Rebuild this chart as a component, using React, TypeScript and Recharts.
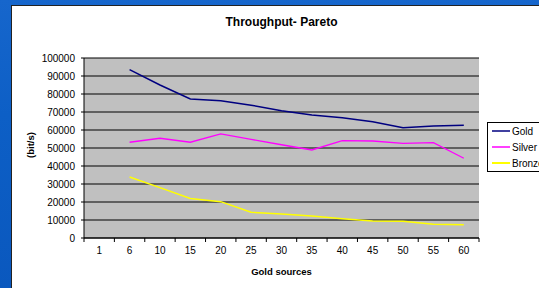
import React from 'react';
import {
  LineChart,
  Line,
  XAxis,
  YAxis,
  CartesianGrid,
  Legend,
  Label,
} from 'recharts';

// values
const sources = ['1', '6', '10', '15', '20', '25', '30', '35', '40', '45', '50', '55', '60'];
const gold = [null, 93500, 85000, 77200, 76300, 73800, 70700, 68300, 66800, 64600, 61300, 62200, 62600];
const silver = [null, 53200, 55400, 53200, 57800, 54800, 51800, 48900, 54100, 53900, 52600, 53000, 44300];
const bronze = [null, 33900, 28000, 22000, 20200, 14300, 13300, 12200, 10700, 9400, 9300, 7600, 7400];
const yTicks = [0, 10000, 20000, 30000, 40000, 50000, 60000, 70000, 80000, 90000, 100000];

const seriesNames = ['Gold', 'Silver', 'Bronze'];
const seriesColors: Record<string, string> = {
  Gold: '#000080',
  Silver: '#FF00FF',
  Bronze: '#FFFF00',
};

const data = sources.map((s, i) => ({
  source: s,
  Gold: gold[i],
  Silver: silver[i],
  Bronze: bronze[i],
}));

const FONT = '"Liberation Sans", Arial, sans-serif';
const TICK_SIZE = 4;
const TICK_MARGIN = 5;

// category tick: label in the middle, tick marks on the band edges (Excel style)
const XTick = (props: any) => {
  const { x, y, payload } = props;
  const half = payload.offset || 0;
  const axisY = y - TICK_SIZE - TICK_MARGIN;
  const last = payload.value === sources[sources.length - 1];
  return (
    <g>
      <line x1={x - half} x2={x - half} y1={axisY} y2={axisY + TICK_SIZE} stroke="#000" />
      {last && <line x1={x + half} x2={x + half} y1={axisY} y2={axisY + TICK_SIZE} stroke="#000" />}
      <text x={x} y={y} dy="0.71em" textAnchor="middle" fontSize={10} fill="#000" fontFamily={FONT}>
        {payload.value}
      </text>
    </g>
  );
};

const renderLegend = () => (
  <div
    style={{
      border: '1px solid #000',
      background: '#fff',
      width: 60,
      paddingLeft: 4,
      fontFamily: FONT,
      fontSize: 10,
      color: '#000',
    }}
  >
    {seriesNames.map((name) => (
      <div key={name} style={{ display: 'flex', alignItems: 'center', height: 16 }}>
        <svg width={20} height={4} style={{ display: 'block' }}>
          <line
            x1={0}
            x2={18}
            y1={2}
            y2={2}
            stroke={seriesColors[name]}
            strokeWidth={name === 'Bronze' ? 2 : 1.5}
          />
        </svg>
        <span style={{ whiteSpace: 'nowrap' }}>{name}</span>
      </div>
    ))}
  </div>
);

const App: React.FC = () => {
  return (
    <div
      style={{
        position: 'absolute',
        left: 0,
        top: 0,
        width: 539,
        height: 288,
        overflow: 'hidden',
        background: 'linear-gradient(180deg, #1666cc 0%, #0d5fc6 40%, #0a58be 100%)',
        fontFamily: FONT,
      }}
    >
      <div
        style={{
          position: 'absolute',
          left: 11,
          top: 5,
          width: 540,
          height: 290,
          background: '#fff',
          borderLeft: '1px solid #222',
          borderTop: '1px solid #222',
        }}
      />
      <div
        style={{
          position: 'absolute',
          left: 84,
          top: 15,
          width: 395,
          textAlign: 'center',
          fontSize: 12,
          lineHeight: '14px',
          fontWeight: 'bold',
          color: '#000',
        }}
      >
        Throughput- Pareto
      </div>
      <div style={{ position: 'absolute', left: 0, top: 0 }}>
        <LineChart
          width={539}
          height={288}
          data={data}
          margin={{ top: 58, right: 60, bottom: 20, left: 0 }}
        >
          <CartesianGrid
            vertical={false}
            stroke="#000"
            fill="#C0C0C0"
            fillOpacity={1}
          />
          <XAxis
            dataKey="source"
            scale="band"
            height={30}
            interval={0}
            tickLine={false}
            tickSize={TICK_SIZE}
            tickMargin={TICK_MARGIN}
            axisLine={{ stroke: '#000' }}
            tick={<XTick />}
          >
            <Label
              value="Gold sources"
              position="bottom"
              offset={0}
              style={{ fontSize: 9.5, fontWeight: 'bold', fill: '#000', fontFamily: FONT }}
            />
          </XAxis>
          <XAxis xAxisId="top" orientation="top" height={0} tick={false} tickLine={false} axisLine={{ stroke: '#808080' }} />
          <YAxis
            width={84}
            domain={[0, 100000]}
            ticks={yTicks}
            interval={0}
            tickSize={3}
            tickMargin={6}
            axisLine={{ stroke: '#000' }}
            tickLine={{ stroke: '#000' }}
            tick={{ fontSize: 10, fill: '#000', fontFamily: FONT }}
          >
            <Label
              content={() => (
                <text
                  transform="translate(34,145) rotate(-90)"
                  textAnchor="middle"
                  fontSize={9.5}
                  fontWeight="bold"
                  fill="#000"
                  fontFamily={FONT}
                >
                  (bit/s)
                </text>
              )}
            />
          </YAxis>
          <YAxis yAxisId="right" orientation="right" width={0} tick={false} tickLine={false} axisLine={{ stroke: '#808080' }} />
          <Legend
            layout="vertical"
            align="center"
            verticalAlign="middle"
            wrapperStyle={{ left: 487, top: 122, width: 'auto' }}
            content={renderLegend}
          />
          <Line type="linear" dataKey="Gold" stroke={seriesColors.Gold} strokeWidth={1.5} dot={false} isAnimationActive={false} />
          <Line type="linear" dataKey="Silver" stroke={seriesColors.Silver} strokeWidth={1.3} dot={false} isAnimationActive={false} />
          <Line type="linear" dataKey="Bronze" stroke={seriesColors.Bronze} strokeWidth={1.5} dot={false} isAnimationActive={false} />
        </LineChart>
      </div>
    </div>
  );
};

export default App;
